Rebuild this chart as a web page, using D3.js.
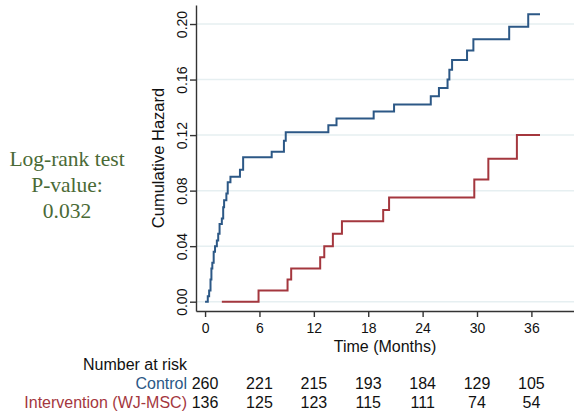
<!DOCTYPE html>
<html>
<head>
<meta charset="utf-8">
<script src="https://cdn.jsdelivr.net/npm/d3@7"></script>
<style>
  body { margin: 0; background: #fff; }
  svg { display: block; }
  .tick text { font-family: Arial, "Liberation Sans", sans-serif; fill: #111; }
</style>
</head>
<body>
<div id="chart"></div>
<script>
// cumulative hazard steps
const ctrlTime = [0, 0.3, 0.45, 0.6, 0.7, 0.8, 0.95, 1.1, 1.3, 1.45, 1.6, 1.85, 2.0, 2.1, 2.35, 2.5, 2.8, 3.85, 4.2, 7.35, 8.7, 8.9, 13.6, 14.5, 18.6, 20.85, 24.9, 25.8, 26.75, 26.95, 27.25, 28.9, 29.6, 33.55, 35.65, 36.95];
const ctrlHaz  = [0, 0.004, 0.008, 0.016, 0.024, 0.028, 0.036, 0.040, 0.044, 0.049, 0.056, 0.060, 0.068, 0.073, 0.078, 0.086, 0.090, 0.095, 0.104, 0.108, 0.116, 0.122, 0.127, 0.132, 0.137, 0.142, 0.148, 0.154, 0.160, 0.167, 0.174, 0.181, 0.189, 0.198, 0.207, 0.207];
const intvTime = [1.85, 5.9, 9.1, 9.5, 12.7, 13.15, 14.1, 15.1, 19.65, 20.3, 29.7, 31.25, 34.4, 36.95];
const intvHaz  = [0, 0.008, 0.016, 0.024, 0.032, 0.040, 0.049, 0.058, 0.066, 0.075, 0.088, 0.103, 0.120, 0.120];

const xTicks = [0, 6, 12, 18, 24, 30, 36];
const yTicks = [0, 0.04, 0.08, 0.12, 0.16, 0.20];
const riskCtrl = [260, 221, 215, 193, 184, 129, 105];
const riskIntv = [136, 125, 123, 115, 111, 74, 54];
const groupNames = ['Control', 'Intervention (WJ-MSC)'];
const pText = ['Log-rank test', 'P-value:', '0.032'];

const blue = '#2c5886', red = '#a4373e', green = '#4a6a36';
const width = 574, height = 416;
const mLeft = 196, mRight = 574, mTop = 5, mBottom = 311;

const svg = d3.select('#chart').append('svg')
  .attr('width', width).attr('height', height);
svg.append('rect').attr('width', width).attr('height', height).attr('fill', '#fff');

const x = d3.scaleLinear().domain([-1, 40.7]).range([mLeft, mRight]);
const y = d3.scaleLinear().domain([-0.0067, 0.2137]).range([mBottom, mTop]);

// grid
svg.append('g').selectAll('line')
  .data(yTicks)
  .join('line')
    .attr('x1', mLeft).attr('x2', mRight)
    .attr('y1', d => y(d)).attr('y2', d => y(d))
    .attr('stroke', '#e6eff1').attr('stroke-width', 1.5);

// axes
const xAxis = svg.append('g')
  .attr('transform', `translate(0,${mBottom})`)
  .call(d3.axisBottom(x).tickValues(xTicks).tickFormat(d3.format('d'))
    .tickSize(6).tickPadding(6).tickSizeOuter(0));
xAxis.selectAll('text').attr('font-size', 14);

const yAxis = svg.append('g')
  .attr('transform', `translate(${mLeft},0)`)
  .call(d3.axisLeft(y).tickValues(yTicks).tickFormat(d3.format('.2f'))
    .tickSize(6).tickSizeOuter(0));
yAxis.selectAll('text')
  .attr('font-size', 14)
  .attr('x', 0).attr('dy', 0)
  .attr('text-anchor', 'middle')
  .attr('transform', 'translate(-9,0) rotate(-90)');

svg.selectAll('.domain, .tick line').attr('stroke', '#333').attr('stroke-width', 1.4);

svg.append('text')
  .attr('transform', `translate(${mLeft - 32},${(mTop + mBottom) / 2}) rotate(-90)`)
  .attr('text-anchor', 'middle')
  .attr('font-family', 'Arial, "Liberation Sans", sans-serif')
  .attr('font-size', 16.5).attr('fill', '#111')
  .text('Cumulative Hazard');

svg.append('text')
  .attr('x', (mLeft + mRight) / 2).attr('y', 352)
  .attr('text-anchor', 'middle')
  .attr('font-family', 'Arial, "Liberation Sans", sans-serif')
  .attr('font-size', 16).attr('fill', '#111')
  .text('Time (Months)');

// curves
const line = d3.line().curve(d3.curveStepAfter).x(d => x(d[0])).y(d => y(d[1]));
svg.append('path')
  .datum(d3.zip(intvTime, intvHaz))
  .attr('d', line).attr('fill', 'none')
  .attr('stroke', red).attr('stroke-width', 2);
svg.append('path')
  .datum(d3.zip(ctrlTime, ctrlHaz))
  .attr('d', line).attr('fill', 'none')
  .attr('stroke', blue).attr('stroke-width', 2);

// log-rank note
svg.append('g').selectAll('text')
  .data(pText)
  .join('text')
    .attr('x', 67).attr('y', (d, i) => 166 + i * 26)
    .attr('text-anchor', 'middle')
    .attr('font-family', '"Liberation Serif", "Times New Roman", serif')
    .attr('font-size', 21.5).attr('fill', green)
    .text(d => d);

// number at risk
const sans = 'Arial, "Liberation Sans", sans-serif';
svg.append('text')
  .attr('x', 187).attr('y', 370).attr('text-anchor', 'end')
  .attr('font-family', sans).attr('font-size', 16).attr('fill', '#111')
  .text('Number at risk');

const rows = [riskCtrl, riskIntv];
const rowColor = [blue, red];
rows.forEach((vals, r) => {
  const yy = 389 + r * 19;
  svg.append('text')
    .attr('x', 187).attr('y', yy).attr('text-anchor', 'end')
    .attr('font-family', sans).attr('font-size', 16).attr('fill', rowColor[r])
    .text(groupNames[r]);
  svg.append('g').selectAll('text')
    .data(vals)
    .join('text')
      .attr('x', (d, i) => x(xTicks[i])).attr('y', yy)
      .attr('text-anchor', 'middle')
      .attr('font-family', sans).attr('font-size', 16).attr('fill', '#111')
      .text(d => d);
});
</script>
</body>
</html>
